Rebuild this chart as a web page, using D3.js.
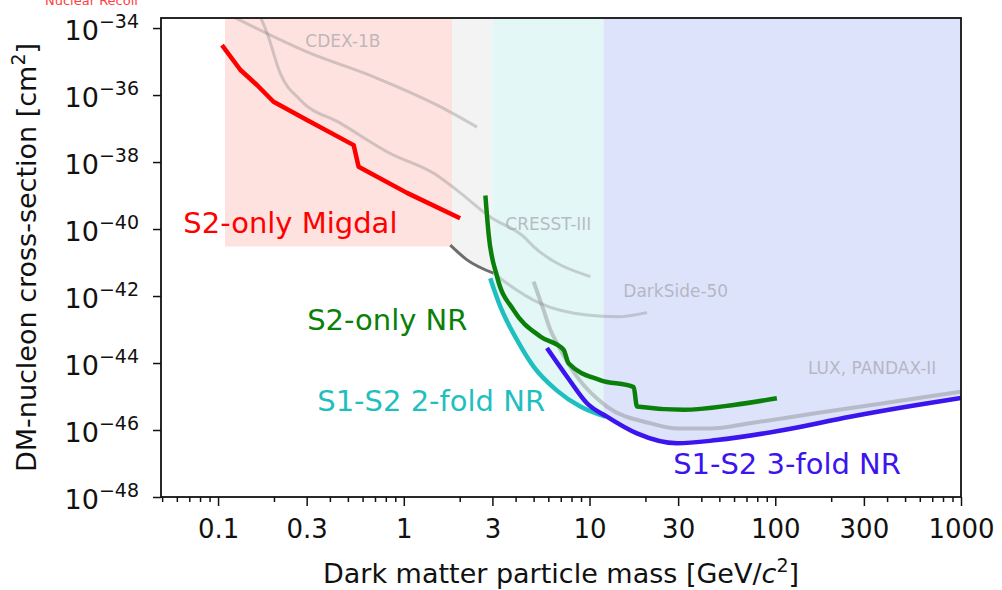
<!DOCTYPE html>
<html>
<head>
<meta charset="utf-8">
<script src="https://cdn.jsdelivr.net/npm/d3@7"></script>
<style>
  body { margin: 0; background: #fff; }
  svg { font-family: "DejaVu Sans", sans-serif; }
</style>
</head>
<body>
<div id="chart"></div>
<script>
// mass in GeV/c^2, cross-section in cm^2
const migdal = [[0.105, 3.1e-35], [0.132, 5.6e-36], [0.162, 2.0e-36], [0.199, 6.3e-37], [0.301, 1.8e-37],
    [0.537, 3.2e-38], [0.571, 7.2e-39], [1.04, 1.2e-39], [2.01, 2.1e-40]];
const s2NR = [[2.75, 1.0e-39], [2.86, 7.4e-41], [3.18, 3.8e-42], [3.90, 3.8e-43], [5.43, 6.2e-44], [7.25, 2.5e-44],
    [7.71, 9.8e-45], [11.4, 3.1e-45], [17.3, 1.9e-45], [18.0, 5.0e-46], [32.1, 4.0e-46], [59.7, 5.6e-46], [102, 8.9e-46]];
const twoFold = [[2.92, 3.4e-42], [3.31, 4.8e-43], [4.07, 4.9e-44], [5.00, 7.8e-45], [6.68, 1.5e-45],
    [8.92, 5.0e-46], [12.2, 2.5e-46]];
const threeFold = [[5.90, 2.8e-44], [7.57, 3.9e-45], [9.69, 6.3e-46], [12.4, 2.5e-46], [18.0, 7.9e-47], [29.6, 4.0e-47],
    [48.5, 5.0e-47], [111, 1.0e-46], [253, 2.5e-46], [580, 5.6e-46], [1000, 9.0e-46]];

const cdex = [[0.12, 2.2e-34], [0.301, 1.95e-35], [0.688, 3.5e-36], [1.57, 4.5e-37], [2.48, 1.1e-37]];
const cresst = [[0.170, 2.0e-34], [0.184, 6.9e-35], [0.216, 4.5e-36], [0.277, 7.1e-37], [0.455, 1.45e-37],
    [0.846, 1.8e-38], [1.45, 4.6e-39], [1.93, 1.45e-39], [2.92, 2.3e-40], [4.42, 5.9e-41], [5.0, 3.0e-41], [10.1, 3.8e-42]];
const darksideLow = [[1.78, 3.3e-41], [2.19, 1.2e-41], [3.04, 4.8e-42]];
const darkside = [[3.04, 4.8e-42], [3.59, 2.4e-42], [5.43, 6.0e-43], [9.69, 2.7e-43], [14.1, 2.4e-43], [20.4, 3.2e-43]];
const luxPandax = [[5.0, 2.7e-42], [5.66, 3.8e-43], [6.15, 9.8e-44], [6.68, 3.9e-44], [8.56, 3.9e-45], [12.4, 5.0e-46],
    [21.2, 1.6e-46], [30, 1.1e-46], [45, 1.1e-46], [73.3, 1.6e-46], [168, 3.2e-46], [383, 6.3e-46], [1000, 1.4e-45]];

// mass ranges of the shaded bands
const bandEdges = [0.109, 1.82, 3.0, 11.9, 1000];
const pinkFloor = 3e-41;

const xTicks = [0.1, 0.3, 1, 3, 10, 30, 100, 300, 1000];
const xTickLabels = ["0.1", "0.3", "1", "3", "10", "30", "100", "300", "1000"];
const yExponents = [-34, -36, -38, -40, -42, -44, -46, -48];

const width = 1002, height = 590;
const margin = { top: 18, right: 41, bottom: 93, left: 161 };
const w = width - margin.left - margin.right;
const h = height - margin.top - margin.bottom;

const svg = d3.select("#chart").append("svg")
    .attr("width", width)
    .attr("height", height);

const g = svg.append("g").attr("transform", `translate(${margin.left},${margin.top})`);

const x = d3.scaleLog().domain([0.0493, 1000]).range([0, w]);
const y = d3.scaleLog().domain([1e-48, 10 ** -33.7]).range([h, 0]);

svg.append("defs").append("clipPath").attr("id", "plot")
    .append("rect").attr("width", w).attr("height", h);

const plot = g.append("g").attr("clip-path", "url(#plot)");

const line = d3.line().x(d => x(d[0])).y(d => y(d[1])).curve(d3.curveMonotoneX);
const lineStraight = d3.line().x(d => x(d[0])).y(d => y(d[1]));

// bands, filled from the top down to the limit curve
const bandColors = ["#fde2df", "#f3f3f3", "#e2f7f6", "#dde3fb"];
const bandFloors = [
    [[bandEdges[0], pinkFloor], [bandEdges[1], pinkFloor]],
    darksideLow, twoFold, threeFold
];
const area = d3.area()
    .x(d => x(d[0]))
    .y0(0)
    .y1(d => y(d[1]))
    .curve(d3.curveMonotoneX);

bandFloors.forEach((floor, i) => {
    const id = "band" + i;
    svg.select("defs").append("clipPath").attr("id", id)
        .append("rect")
        .attr("x", x(bandEdges[i]))
        .attr("width", x(bandEdges[i + 1]) - x(bandEdges[i]))
        .attr("y", 0)
        .attr("height", h);
    plot.append("path")
        .datum(floor)
        .attr("clip-path", `url(#${id})`)
        .attr("fill", bandColors[i])
        .attr("d", area);
});

// other experiments
[cdex, cresst, darkside].forEach(c => {
    plot.append("path").datum(c)
        .attr("fill", "none")
        .attr("stroke", "#808080")
        .attr("stroke-opacity", 0.35)
        .attr("stroke-width", 3)
        .attr("d", line);
});
plot.append("path").datum(luxPandax)
    .attr("fill", "none")
    .attr("stroke", "#808080")
    .attr("stroke-opacity", 0.4)
    .attr("stroke-width", 4)
    .attr("d", line);
plot.append("path").datum(darksideLow)
    .attr("fill", "none")
    .attr("stroke", "#555")
    .attr("stroke-opacity", 0.85)
    .attr("stroke-width", 3)
    .attr("d", line);

// XENON1T results
const results = [
    { data: migdal, color: "#ff0000", gen: lineStraight },
    { data: s2NR, color: "#0a800a", gen: line },
    { data: twoFold, color: "#1fbfbf", gen: line },
    { data: threeFold, color: "#3b14ee", gen: line }
];
results.forEach(r => {
    plot.append("path").datum(r.data)
        .attr("fill", "none")
        .attr("stroke", r.color)
        .attr("stroke-width", 4.5)
        .attr("stroke-linejoin", "round")
        .attr("d", r.gen);
});

// curve labels
const labels = [
    { text: "S2-only Migdal", m: 0.065, s: 10 ** -40.12, color: "#ff0000" },
    { text: "S2-only NR", m: 0.302, s: 10 ** -43.01, color: "#0a800a" },
    { text: "S1-S2 2-fold NR", m: 0.342, s: 10 ** -45.43, color: "#1fbfbf" },
    { text: "S1-S2 3-fold NR", m: 28.2, s: 10 ** -47.31, color: "#3b14ee" }
];
labels.forEach(l => {
    g.append("text")
        .attr("x", x(l.m))
        .attr("y", y(l.s))
        .attr("fill", l.color)
        .attr("font-size", 29)
        .text(l.text);
});

const grayLabels = [
    { text: "CDEX-1B", m: 0.295, s: 10 ** -34.56 },
    { text: "CRESST-III", m: 3.52, s: 10 ** -40.03 },
    { text: "DarkSide-50", m: 15.2, s: 10 ** -42.03 },
    { text: "LUX, PANDAX-II", m: 150, s: 10 ** -44.33 }
];
grayLabels.forEach(l => {
    g.append("text")
        .attr("x", x(l.m))
        .attr("y", y(l.s))
        .attr("fill", "#a8a8b0")
        .attr("fill-opacity", 0.75)
        .attr("font-size", 17)
        .text(l.text);
});

// frame
g.append("rect")
    .attr("width", w)
    .attr("height", h)
    .attr("fill", "none")
    .attr("stroke", "#111")
    .attr("stroke-width", 1.8);

// x axis
const xMinor = [];
[0.01, 0.1, 1, 10, 100].forEach(dec => {
    for (let k = 2; k <= 9; k++) {
        const v = dec * k;
        if (k !== 3 && v >= 0.05 && v < 1000) xMinor.push(v);
    }
});
const xAxisMinor = g.append("g")
    .attr("transform", `translate(0,${h})`)
    .call(d3.axisBottom(x).tickValues(xMinor).tickSize(5).tickFormat(""));
const xAxis = g.append("g")
    .attr("transform", `translate(0,${h})`)
    .call(d3.axisBottom(x).tickValues(xTicks).tickSize(9).tickPadding(14)
        .tickFormat((d, i) => xTickLabels[i]));
[xAxisMinor, xAxis].forEach(a => {
    a.select(".domain").remove();
    a.selectAll("line").attr("stroke", "#111").attr("stroke-width", 1.5);
});
xAxis.selectAll("text")
    .attr("font-size", 26)
    .attr("fill", "#111")
    .attr("font-family", "DejaVu Sans");

// y axis
const yAxis = g.append("g")
    .call(d3.axisLeft(y).tickValues(yExponents.map(e => 10 ** e)).tickSize(8).tickFormat(""));
yAxis.select(".domain").remove();
yAxis.selectAll("line").attr("stroke", "#111").attr("stroke-width", 1.5);
yAxis.selectAll(".tick").each(function (d, i) {
    const t = d3.select(this).append("text")
        .attr("x", -22)
        .attr("y", 11)
        .attr("text-anchor", "end")
        .attr("fill", "#111")
        .attr("font-size", 27)
        .attr("font-family", "DejaVu Sans");
    t.append("tspan").text("10");
    t.append("tspan").attr("font-size", 19).attr("dy", -12).text("\u2212" + String(-yExponents[i]));
});

// axis titles
const xTitle = svg.append("text")
    .attr("x", margin.left + w / 2)
    .attr("y", 583)
    .attr("text-anchor", "middle")
    .attr("font-size", 27)
    .attr("fill", "#111");
xTitle.append("tspan").text("Dark matter particle mass [GeV/");
xTitle.append("tspan").attr("font-style", "italic").text("c");
xTitle.append("tspan").attr("font-size", 19).attr("dy", -11).text("2");
xTitle.append("tspan").attr("dy", 11).text("]");

const yTitle = svg.append("text")
    .attr("transform", `translate(36,${margin.top + h / 2}) rotate(-90)`)
    .attr("text-anchor", "middle")
    .attr("font-size", 27)
    .attr("fill", "#111");
yTitle.append("tspan").text("DM-nucleon cross-section [cm");
yTitle.append("tspan").attr("font-size", 19).attr("dy", -11).text("2");
yTitle.append("tspan").attr("dy", 11).text("]");

// clipped heading remnant at the top
svg.append("text")
    .attr("x", 45)
    .attr("y", 5)
    .attr("font-size", 13)
    .attr("fill", "#ff4040")
    .text("Nuclear Recoil");
</script>
</body>
</html>
